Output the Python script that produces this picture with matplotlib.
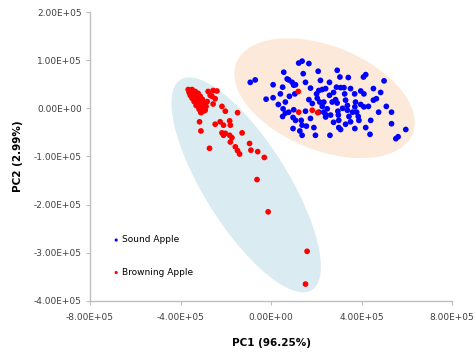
import numpy as np
import matplotlib
matplotlib.use("Agg")
import matplotlib.pyplot as plt
from matplotlib.patches import Ellipse
from matplotlib.ticker import FuncFormatter
from matplotlib.transforms import Affine2D

# PCA scores, in units of 1e5
sound_pc1 = [-0.92, -0.70, -0.22, 0.09, 0.09, 0.41, 0.56, 0.51, 0.63, 0.78,
             0.93, 1.00, 1.22, 1.37, 1.67, 1.42, 1.52, 1.05, 0.53, 0.63,
             0.51, 0.78, 1.00, 0.97, 1.08, 1.33, 1.52, 0.97, 1.27, 1.37,
             1.89, 1.96, 2.08, 1.74, 1.67, 1.82, 2.01, 2.11, 2.26, 2.41,
             2.15, 2.26, 2.11, 2.33, 2.48, 2.41, 2.58, 2.58, 2.70, 2.63,
             2.60, 2.92, 3.04, 2.89, 3.07, 3.22, 2.85, 2.92, 2.95, 2.97,
             2.99, 2.99, 3.07, 3.25, 3.29, 3.37, 3.37, 3.44, 3.41, 3.51,
             3.69, 3.73, 3.70, 3.78, 3.85, 3.88, 3.70, 3.96, 4.10, 4.18,
             4.08, 4.10, 4.30, 4.18, 4.37, 4.52, 4.52, 4.65, 4.99, 5.09,
             5.32, 5.32, 5.95, 5.51, 5.61, 0.71, 1.08, 1.37, 2.33, 2.41,
             2.04, 2.76, 3.51, 3.16, 3.60, 3.96, 2.76, 3.29, 1.74, 1.56,
             0.32, 0.81, 2.18, 4.40, 4.75, 4.84]
sound_pc2 = [0.54, 0.59, 0.19, 0.49, 0.22, 0.30, 0.75, 0.44, 0.13, 0.59,
             0.54, 0.48, 0.94, 0.98, 0.93, 0.72, 0.54, 0.30, -0.01, -0.10,
             -0.17, -0.08, -0.03, -0.19, -0.25, -0.25, -0.06, -0.42, -0.47, -0.56,
             -0.40, -0.56, 0.77, 0.42, 0.18, 0.10, 0.30, 0.37, 0.39, 0.41,
             0.13, 0.04, -0.08, -0.08, -0.01, -0.18, 0.54, 0.27, 0.13, -0.14,
             -0.56, 0.79, 0.65, 0.44, 0.43, 0.43, 0.18, 0.11, -0.06, -0.14,
             -0.25, -0.40, -0.44, 0.30, 0.17, 0.06, -0.04, -0.17, 0.64, -0.28,
             0.30, 0.13, 0.03, -0.08, -0.17, -0.25, -0.42, 0.36, 0.30, 0.70,
             0.65, 0.03, 0.04, -0.40, -0.54, 0.41, 0.17, 0.20, 0.57, 0.04,
             -0.08, -0.32, -0.44, -0.63, -0.59, 0.61, 0.49, -0.35, 0.13, -0.13,
             0.21, 0.33, 0.41, 0.00, -0.08, 0.08, -0.29, -0.33, -0.21, -0.37,
             0.08, 0.25, 0.58, -0.25, -0.08, 0.33]

brown_pc1 = [-3.66, -3.57, -3.49, -3.62, -3.53, -3.44, -3.35, -3.57, -3.49, -3.40,
             -3.31, -3.22, -3.49, -3.40, -3.31, -3.22, -3.13, -3.40, -3.31, -3.22,
             -3.13, -3.04, -3.31, -3.22, -3.13, -3.04, -2.95, -3.18, -3.09, -3.00,
             -3.09, -3.00, -2.91, -2.87, -2.82, -2.78, -2.56, -2.39, -2.61, -2.56,
             -2.69, -2.47, -2.17, -2.02, -1.48, -3.10, -3.16, -2.47, -2.25, -2.10,
             -1.83, -1.80, -3.10, -2.17, -2.02, -2.10, -1.83, -1.73, -1.80, -1.28,
             -2.72, -1.58, -1.48, -1.39, -0.95, -0.89, -0.59, -0.30, -0.62, -0.13,
             1.59, 1.52, 1.20, 1.22, 1.82, 2.06]
brown_pc2 = [0.39, 0.37, 0.39, 0.33, 0.31, 0.33, 0.35, 0.27, 0.25, 0.27,
             0.29, 0.31, 0.21, 0.19, 0.21, 0.23, 0.25, 0.14, 0.12, 0.14,
             0.17, 0.19, 0.06, 0.04, 0.08, 0.10, 0.12, -0.02, 0.00, 0.02,
             -0.08, -0.06, -0.04, 0.04, 0.14, 0.35, 0.37, 0.36, 0.25, 0.09,
             0.27, 0.20, 0.04, -0.06, -0.09, -0.09, -0.28, -0.33, -0.28, -0.35,
             -0.26, -0.35, -0.47, -0.51, -0.52, -0.56, -0.56, -0.61, -0.70, -0.51,
             -0.83, -0.80, -0.88, -0.95, -0.73, -0.87, -0.90, -1.02, -1.48, -2.15,
             -2.97, -3.65, 0.35, -0.08, -0.04, -0.09]

x_ticks = [-8e5, -4e5, 0, 4e5, 8e5]
y_ticks = [-4e5, -3e5, -2e5, -1e5, 0, 1e5, 2e5]

fig = plt.figure(figsize=(4.76, 3.54), dpi=100)
ax = fig.add_axes([0.189, 0.150, 0.761, 0.816])
ax.set_xlim(-8e5, 8e5)
ax.set_ylim(-4e5, 2e5)

# data units per screen pixel, so the group ellipses keep their on-screen tilt
sx = 1.6e6 / (0.761 * 476)
sy = 6e5 / (0.816 * 354)

def group_ellipse(cx, cy, a, b, angle, color):
    e = Ellipse((0, 0), 2 * a, 2 * b, angle=angle, facecolor=color,
                edgecolor="none", zorder=1)
    e.set_transform(Affine2D().scale(sx, sy).translate(cx, cy) + ax.transData)
    ax.add_patch(e)

group_ellipse(2.36e5, 0.21e5, 95, 52, -22, "#fce9da")
group_ellipse(-1.10e5, -1.59e5, 124, 42, -58, "#daecf2")

ax.scatter(np.array(sound_pc1) * 1e5, np.array(sound_pc2) * 1e5, s=17,
           color="#0000ff", edgecolors="none", zorder=3, label="Sound Apple")
ax.scatter(np.array(brown_pc1) * 1e5, np.array(brown_pc2) * 1e5, s=17,
           color="#ff0000", edgecolors="none", zorder=3, label="Browning Apple")

ax.set_xticks(x_ticks)
ax.set_yticks(y_ticks)
fmt = FuncFormatter(lambda v, pos: f"{v:.2E}")
ax.xaxis.set_major_formatter(fmt)
ax.yaxis.set_major_formatter(fmt)
ax.tick_params(labelsize=6.5, labelcolor="#404040", color="#bfbfbf",
               length=3, width=0.8, pad=3)
ax.tick_params(axis="x", pad=6)

for side in ["top", "right"]:
    ax.spines[side].set_visible(False)
for side in ["left", "bottom"]:
    ax.spines[side].set_color("#bfbfbf")
    ax.spines[side].set_linewidth(1.0)

ax.set_xlabel("PC1 (96.25%)", fontsize=7.5, fontweight="bold", labelpad=11)
ax.set_ylabel("PC2 (2.99%)", fontsize=7.5, fontweight="bold", labelpad=8)

ax.legend(loc="lower left", bbox_to_anchor=(0.035, 0.055), frameon=False,
          fontsize=6.5, labelspacing=2.6, handletextpad=0.0, markerscale=0.55,
          handlelength=1.2)

fig.savefig("out.png", dpi=100)
